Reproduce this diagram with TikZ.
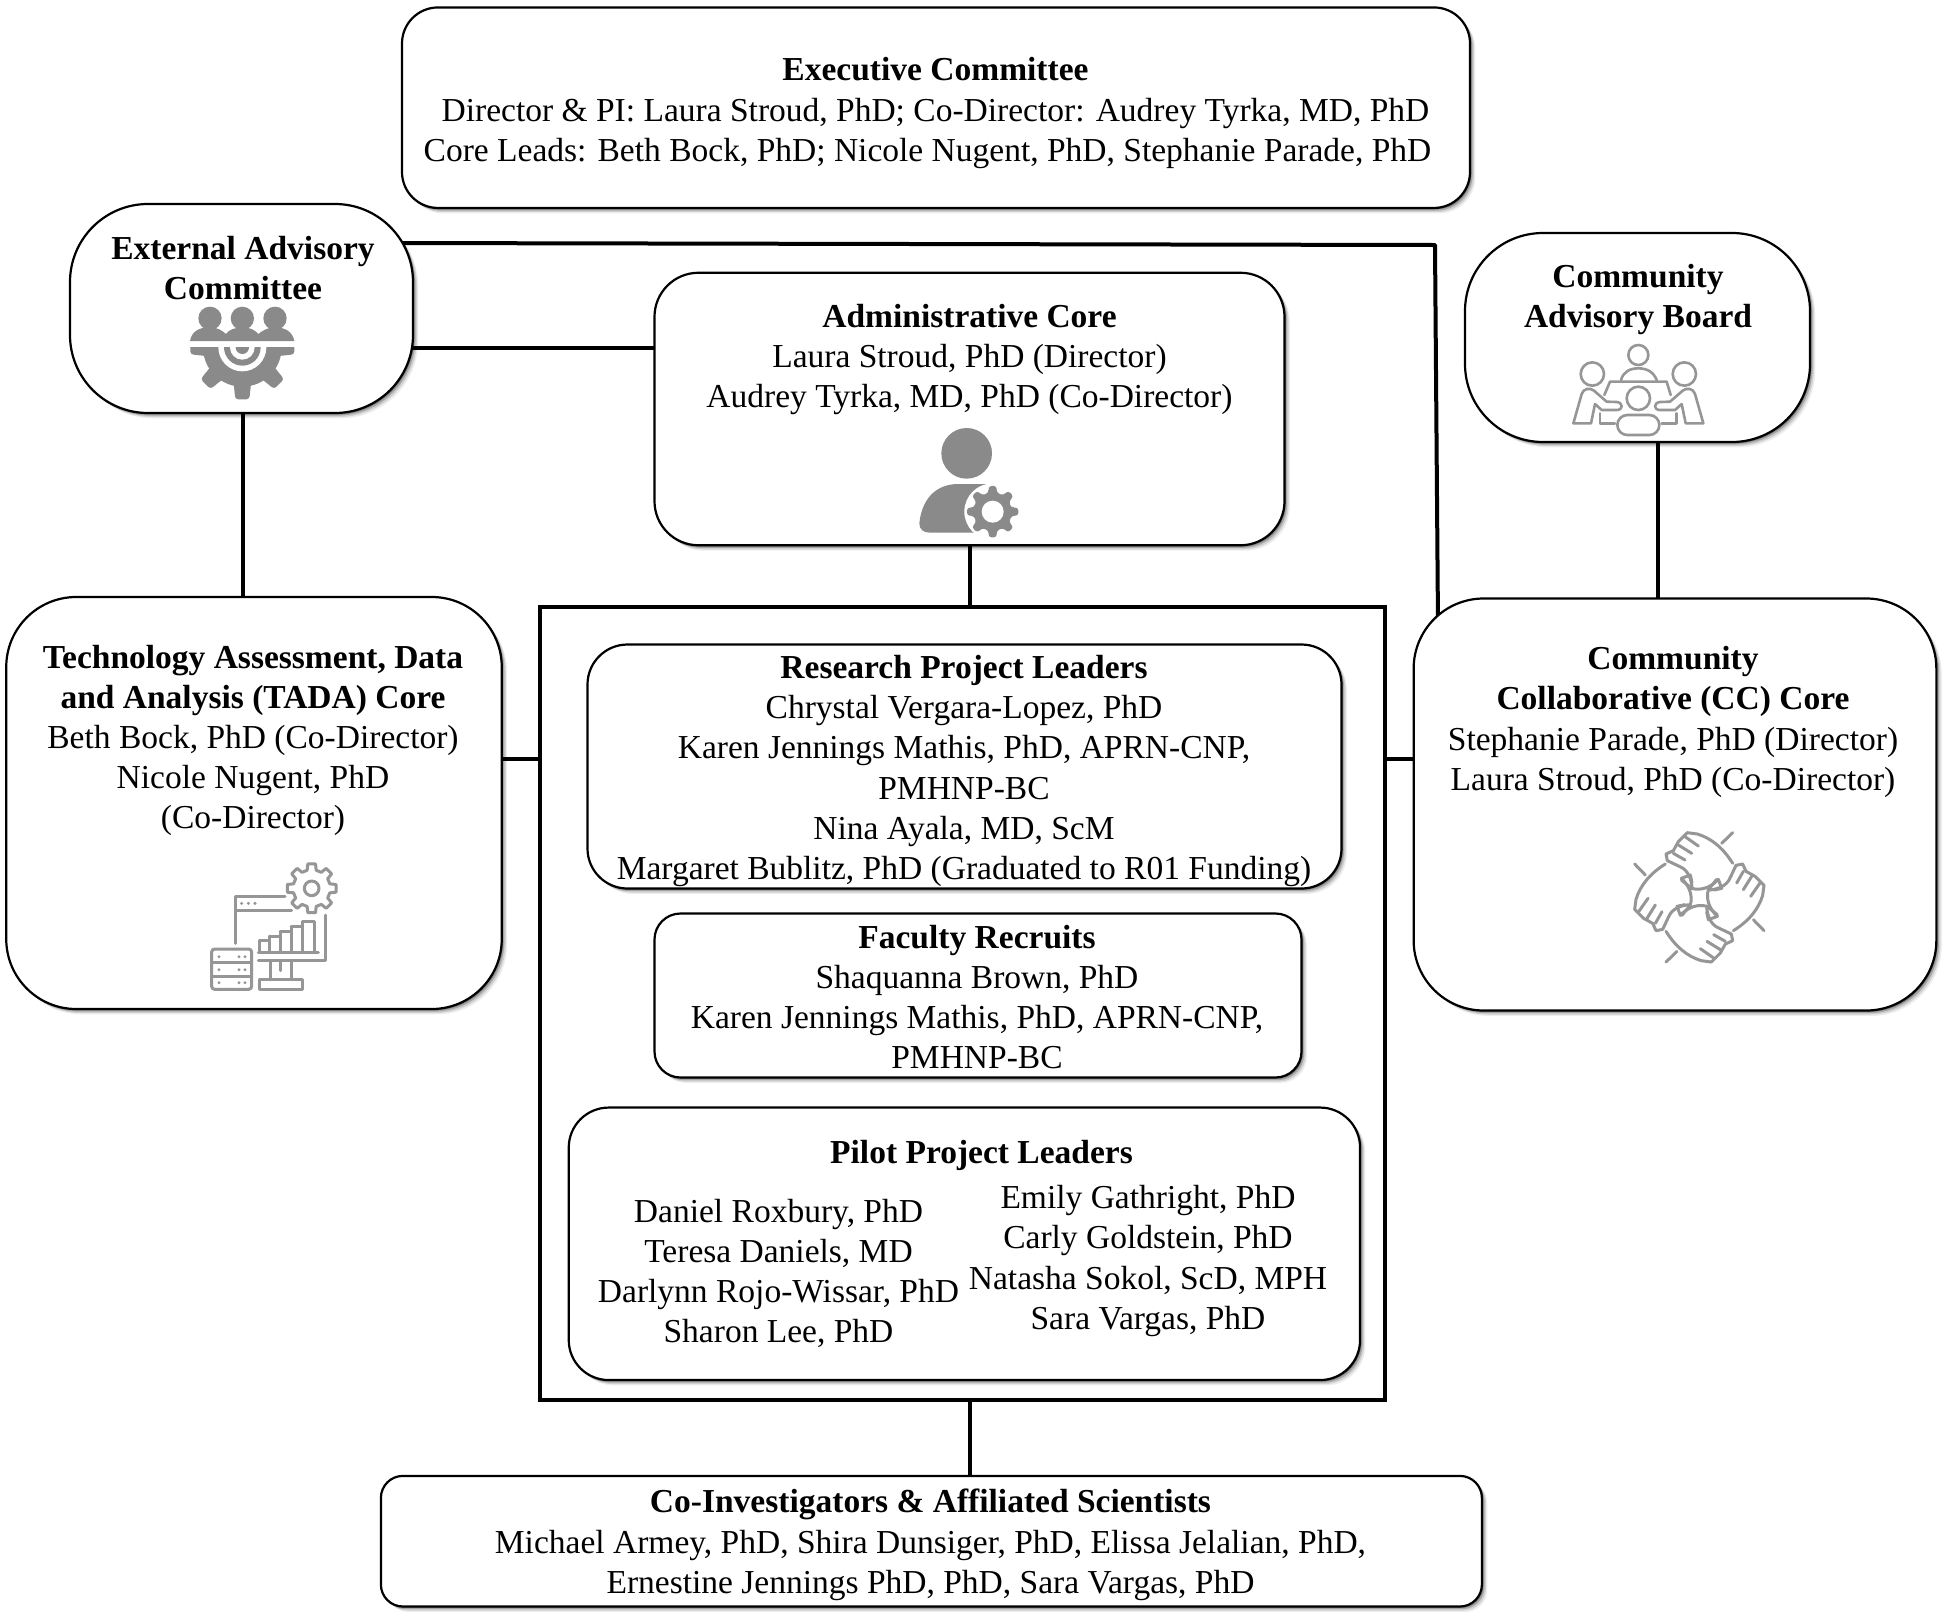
\documentclass[tikz,border=0pt]{standalone}
\usepackage{fontspec}
\setmainfont{Liberation Serif}
\usetikzlibrary{shadows,calc}
\pgfdeclarelayer{connectors}
\pgfsetlayers{connectors,main}
\definecolor{icondark}{HTML}{8A8A8A}
\definecolor{iconlight}{HTML}{969696}
\tikzset{
  softshadow/.style={
    drop shadow={shadow xshift=.7pt,shadow yshift=-.7pt,opacity=.25,fill=black},
    drop shadow={shadow xshift=1.3pt,shadow yshift=-1.3pt,opacity=.2,fill=black},
    drop shadow={shadow xshift=2pt,shadow yshift=-2pt,opacity=.12,fill=black},
    drop shadow={shadow xshift=2.7pt,shadow yshift=-2.7pt,opacity=.07,fill=black}},
  panel/.style={draw=black,line width=1.1pt,fill=white,inner sep=0pt,outer sep=0pt,softshadow},
  frame/.style={draw=black,line width=2.1pt,inner sep=0pt,outer sep=0pt},
  label/.style={inner sep=0pt,outer sep=0pt,font=\fontsize{16.75}{20.1}\selectfont,align=center},
  link/.style={draw=black,line width=2pt},
  iconline/.style={draw=iconlight,line width=1.3pt,line join=round,line cap=round},
  iconfill/.style={fill=icondark,draw=none}
}
\begin{document}
\begin{tikzpicture}[x=.5pt,y=-.5pt]
\useasboundingbox (0,0) rectangle (1950,1618);
\begin{pgfonlayer}{connectors}
\fill[white] (0,0) rectangle (1950,1618);
\end{pgfonlayer}

% boxes
\node[frame,minimum width=422.5pt,minimum height=396.5pt] (main) at (962.5,1003.5) {};
\node[panel,rounded corners=18pt,minimum width=534pt,minimum height=100.25pt] (exec) at (936,107.7) {};
\node[panel,rounded corners=39pt,minimum width=171.5pt,minimum height=104.5pt] (eac) at (241.5,308.5) {};
\node[panel,rounded corners=39pt,minimum width=172.5pt,minimum height=104.5pt] (cab) at (1637.5,337.5) {};
\node[panel,rounded corners=22pt,minimum width=315pt,minimum height=136.25pt] (admin) at (969.5,409) {};
\node[panel,rounded corners=35pt,minimum width=247.75pt,minimum height=206pt] (tada) at (254,803) {};
\node[panel,rounded corners=35pt,minimum width=261.35pt,minimum height=206pt] (cc) at (1675,804.5) {};
\node[panel,rounded corners=20pt,minimum width=377pt,minimum height=122pt] (research) at (964.5,766.5) {};
\node[panel,rounded corners=13pt,minimum width=323.5pt,minimum height=82pt] (faculty) at (978,995.5) {};
\node[panel,rounded corners=20pt,minimum width=395.65pt,minimum height=136.25pt] (pilot) at (964.4,1243.8) {};
\node[panel,rounded corners=11pt,minimum width=550.5pt,minimum height=65.3pt] (coinv) at (931.4,1541.2) {};

% texts
\node[label] (exectext) at (935.5,113) {\textbf{Executive Committee}\\Director \& PI: Laura Stroud, PhD; Co-Director: Audrey Tyrka, MD, PhD\\Core Leads: Beth Bock, PhD; Nicole Nugent, PhD, Stephanie Parade, PhD\hspace*{8pt}};
\node[label] (eactext) at (243,268) {\textbf{External Advisory}\\\textbf{Committee}};
\node[label] (cabtext) at (1638,299.5) {\textbf{Community}\\\textbf{Advisory Board}};
\node[label] (admintext) at (969.5,359.5) {\textbf{Administrative Core}\\Laura Stroud, PhD (Director)\\Audrey Tyrka, MD, PhD (Co-Director)};
\node[label] (tadatext) at (253,740.5) {\textbf{Technology Assessment, Data}\\\textbf{and Analysis (TADA) Core}\\Beth Bock, PhD (Co-Director)\\Nicole Nugent, PhD\\(Co-Director)};
\node[label] (cctext) at (1673,722) {\textbf{Community}\\\textbf{Collaborative (CC) Core}\\Stephanie Parade, PhD (Director)\\Laura Stroud, PhD (Co-Director)};
\node[label] (researchtext) at (964,771) {\textbf{Research Project Leaders}\\Chrystal Vergara-Lopez, PhD\\Karen Jennings Mathis, PhD, APRN-CNP,\\PMHNP-BC\\Nina Ayala, MD, ScM\\Margaret Bublitz, PhD (Graduated to R01 Funding)};
\node[label] (facultytext) at (977,997) {\textbf{Faculty Recruits}\\Shaquanna Brown, PhD\\Karen Jennings Mathis, PhD, APRN-CNP,\\PMHNP-BC};
\node[label] (pilottitle) at (981.5,1155) {\textbf{Pilot Project Leaders}};
\node[label] (pilotleft) at (778.5,1273.5) {Daniel Roxbury, PhD\\Teresa Daniels, MD\\Darlynn Rojo-Wissar, PhD\\Sharon Lee, PhD};
\node[label] (pilotright) at (1148,1261) {Emily Gathright, PhD\\Carly Goldstein, PhD\\Natasha Sokol, ScD, MPH\\Sara Vargas, PhD};
\node[label] (coinvtext) at (930.5,1545) {\textbf{Co-Investigators \& Affiliated Scientists}\\Michael Armey, PhD, Shira Dunsiger, PhD, Elissa Jelalian, PhD,\\Ernestine Jennings PhD, PhD, Sara Vargas, PhD};

% connector anchors
\coordinate (eactop) at (390,243);
\coordinate (bend) at (1435,245);
\coordinate (cctop) at (1438,625);
\coordinate (eacmid) at (400,348);
\coordinate (sidey) at (962,759);
\coordinate (cabdrop) at (1658,430);
\coordinate (eacdrop) at (243,400);
\begin{pgfonlayer}{connectors}
\draw[link,line join=round] (eactop) -- (bend) -- (cctop);
\draw[link] (eacmid) -- (admin.west |- eacmid);
\draw[link] (eacdrop) -- (eacdrop |- tada.north);
\draw[link] (cabdrop) -- (cabdrop |- cc.north);
\draw[link] (admin.south) -- (admin.south |- main.north);
\draw[link] (tada.east |- sidey) -- (main.west |- sidey);
\draw[link] (main.east |- sidey) -- (cc.west |- sidey);
\draw[link] (admin.south |- main.south) -- (admin.south |- coinv.north);
\end{pgfonlayer}

% icon: people and gear
\begin{scope}[shift={(50,190)},x=.16667pt,y=-.16667pt]
 \fill[icondark] (480,385) circle (35) (577,385) circle (35) (675,385) circle (35);
 \fill[icondark] (420,453) .. controls (425,425) and (445,412) .. (480,412)
   .. controls (500,412) and (515,420) .. (528,432)
   .. controls (535,420) and (555,412) .. (577,412)
   .. controls (600,412) and (615,420) .. (625,432)
   .. controls (640,420) and (655,412) .. (675,412)
   .. controls (705,412) and (728,425) .. (733,453) -- cycle;
 \begin{scope}
  \clip (400,472) rectangle (750,640);
  \fill[icondark] (577,472) circle (118);
  \foreach \a in {0,45,90,135,180}{
    \fill[icondark,shift={(577,472)},rotate=-\a,rounded corners=1.5pt] (100,-27) -- (156,-21) -- (156,21) -- (100,27) -- cycle;
  }
  \fill[white] (577,472) circle (72);
  \fill[icondark] (577,472) circle (55);
  \fill[white] (577,472) circle (37);
  \fill[icondark] (577,472) circle (20);
 \end{scope}
\end{scope}

% icon: meeting table
\begin{scope}[shift={(1460,220)},x=.16667pt,y=-.16667pt]
 \draw[iconline] (535,405) circle (30);
 \draw[iconline] (483,480) .. controls (490,455) and (510,445) .. (535,445) .. controls (560,445) and (580,455) .. (590,480);
 \draw[iconline] (433,525) -- (450,485) -- (620,485) -- (632,525);
 \draw[iconline] (397,462) circle (35) (673,462) circle (35);
 \draw[iconline] (340,610) -- (365,522) .. controls (370,505) and (390,502) .. (402,512) -- (440,545) -- (470,546)
   .. controls (490,548) and (490,570) .. (470,570) -- (425,570) -- (405,552) -- (393,610) -- cycle;
 \draw[iconline] (730,610) -- (705,522) .. controls (700,505) and (680,502) .. (668,512) -- (630,545) -- (600,546)
   .. controls (580,548) and (580,570) .. (600,570) -- (645,570) -- (665,552) -- (677,610) -- cycle;
 \draw[iconline] (535,535) circle (35);
 \draw[iconline,rounded corners=5pt] (472,645) -- (472,585) -- (598,585) -- (598,645) -- cycle;
 \draw[iconline] (420,580) -- (420,610) -- (465,610) (650,580) -- (650,610) -- (605,610);
\end{scope}

% icon: person and gear
\begin{scope}[shift={(880,410)},x=.16667pt,y=-.16667pt]
 \fill[icondark] (260,130) circle (76);
 \fill[icondark] (118,340) .. controls (125,270) and (165,222) .. (235,222) -- (320,222) -- (320,368) -- (150,368) .. controls (130,368) and (118,358) .. (118,340) -- cycle;
 \fill[white] (338,305) circle (85);
 \fill[white] (320,222) rectangle (420,380);
 \fill[icondark,rounded corners=1.5pt,shift={(338,305)}] (-12:56) \foreach \a in {0,45,...,315}{ -- (\a-12:58) -- (\a-9:78) -- (\a+9:78) -- (\a+12:58)} -- cycle;
 \fill[white] (338,305) circle (33);
\end{scope}

% icon: data and gear
\begin{scope}[shift={(190,850)},x=.16667pt,y=-.16667pt,iconline/.append style={line width=1.5pt}]
 \draw[iconline,shift={(365,115)}] (-14:56) \foreach \a in {0,45,...,315}{ -- (\a-14:56) -- (\a-9:74) -- (\a+9:74) -- (\a+14:56)} -- cycle;
 \draw[iconline] (365,115) circle (22);
 \draw[iconline] (137,280) -- (137,140) -- (285,140);
 \draw[iconline] (140,180) -- (305,180);
 \fill[iconlight] (155,160) circle (5) (175,160) circle (5) (195,160) circle (5);
 \draw[iconline,rounded corners=1.5pt] (65,297) rectangle (185,418);
 \draw[iconline] (65,338) -- (185,338) (65,378) -- (185,378);
 \fill[iconlight] (87,320) circle (5) (147,320) circle (5) (165,320) circle (5)
   (87,359) circle (5) (147,359) circle (5) (165,359) circle (5)
   (87,398) circle (5) (147,398) circle (5) (165,398) circle (5);
 \draw[iconline] (207,305) -- (207,270) -- (238,270) -- (238,305)
   (238,258) -- (270,258) -- (270,305)
   (270,245) -- (303,245) -- (303,305)
   (303,230) -- (337,230) -- (337,305)
   (337,215) -- (372,215) -- (372,305)
   (238,270) -- (238,258) (270,258) -- (270,245) (303,245) -- (303,230) (337,230) -- (337,215);
 \draw[iconline] (205,308) -- (385,308);
 \draw[iconline] (205,332) -- (405,332) -- (405,195);
 \draw[iconline] (240,335) -- (240,388) (305,335) -- (305,388) (272,335) -- (272,362);
 \draw[iconline] (207,388) rectangle (338,418);
\end{scope}

% icon: four joined hands
\begin{scope}[shift={(1610,820)},x=.16667pt,y=-.16667pt,iconline/.append style={line width=1.5pt}]
 \foreach \r in {0,90,180,270}{
 \begin{scope}[rotate around={\r:(268,232)}]
  \draw[iconline] (368,38) -- (335,70);
  \draw[iconline] (232,38) -- (262,42) .. controls (305,55) and (340,85) .. (368,130);
  \draw[iconline] (232,38) -- (205,65) -- (190,92) -- (168,102) -- (172,122) -- (210,140)
    .. controls (235,150) and (245,180) .. (246,205);
  \draw[iconline] (225,50) -- (265,78) (205,75) -- (245,100) (190,100) -- (225,120);
  \draw[iconline] (214,180) -- (245,205) .. controls (270,212) and (300,205) .. (325,178) -- (335,205) -- (312,210);
 \end{scope}
 }
\end{scope}
\end{tikzpicture}
\end{document}
